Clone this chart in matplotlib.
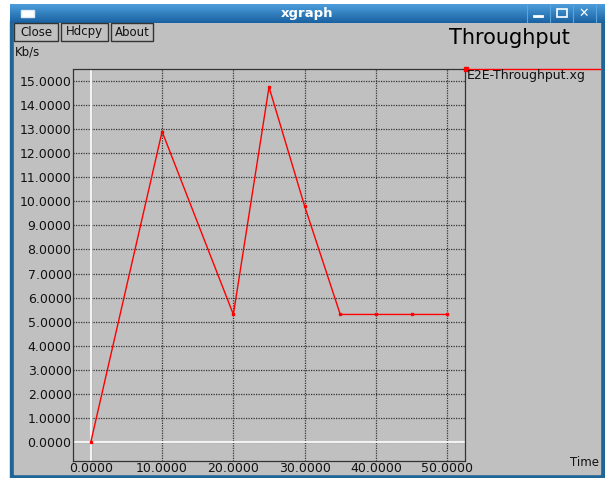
import matplotlib.pyplot as plt
from matplotlib.patches import Rectangle
from matplotlib.lines import Line2D
from matplotlib.colors import LinearSegmentedColormap
import numpy as np

time = [0, 10, 20, 25, 30, 35, 40, 45, 50]
throughput = [0.0, 12.9, 5.3, 14.75, 9.8, 5.3, 5.3, 5.3, 5.3]
xticks = [0, 10, 20, 30, 40, 50]
yticks = list(range(0, 16))

W, H = 605, 478
fig = plt.figure(figsize=(W / 100, H / 100), dpi=100)
fig.patch.set_facecolor('white')

def px(x, y):
    # pixel coords (top-left origin) -> figure fraction
    return x / W, 1 - y / H

# window body (negative zorder so the axes sit on top)
border = '#1f6598'
fig.patches.append(Rectangle(px(10, 478), 595 / W, 458 / H, transform=fig.transFigure, color=border, zorder=-2))
fig.patches.append(Rectangle(px(14, 474), 586 / W, 452 / H, transform=fig.transFigure, color='#c0c0c0', zorder=-1))

# title bar with gradient
tb = fig.add_axes([10 / W, 1 - 23 / H, 595 / W, 19 / H])
tb.imshow(np.linspace(0, 1, 50).reshape(-1, 1), aspect='auto',
          cmap=LinearSegmentedColormap.from_list('tb', ['#4c9ddb', '#1a62a3']), extent=[0, 1, 0, 1])
tb.set_axis_off()
fig.text(*px(307, 13), 'xgraph', color='white', fontsize=9.5, fontweight='bold', ha='center', va='center')
fig.patches.append(Rectangle(px(21, 17), 13 / W, 7 / H, transform=fig.transFigure, fc='white', ec='#dde9f5', lw=1, zorder=3))
for bx in [527, 550, 573, 596]:
    fig.add_artist(Line2D([bx / W, bx / W], [1 - 5 / H, 1 - 22 / H], color='#5aa5de', lw=0.8))
fig.add_artist(Line2D([534 / W, 542 / W], [1 - 16 / H, 1 - 16 / H], color='white', lw=2))
fig.patches.append(Rectangle(px(557, 17), 10 / W, 8 / H, transform=fig.transFigure, fc='none', ec='white', lw=1.2, zorder=3))
fig.text(*px(584, 13), '✕', color='white', fontsize=9, fontweight='bold', ha='center', va='center')

# buttons
for bx, bw, lab in [(14, 44, 'Close'), (61, 47, 'Hdcpy'), (111, 42, 'About')]:
    fig.patches.append(Rectangle(px(bx, 41), bw / W, 18 / H, transform=fig.transFigure, fc='#c0c0c0', ec='#333333', lw=1, zorder=3))
    fig.text(*px(bx + bw / 2, 32), lab, fontsize=8.5, ha='center', va='center', color='#111111', zorder=4)

fig.text(*px(449, 38), 'Throughput', fontsize=15, ha='left', va='center', color='black')
fig.text(*px(15, 52), 'Kb/s', fontsize=8.5, ha='left', va='center', color='#111111')
fig.text(*px(570, 462), 'Time', fontsize=8.5, ha='left', va='center', color='#111111')

# plot area
l, t, r, b = 73, 69, 465, 461
ax = fig.add_axes([l / W, 1 - b / H, (r - l) / W, (b - t) / H])
ax.set_facecolor('#c0c0c0')
ax.set_xlim(-2.5, 52.5)
ax.set_ylim(-0.79, 15.5)
ax.set_xticks(xticks)
ax.set_yticks(yticks)
ax.set_xticklabels(['%.4f' % v for v in xticks])
ax.set_yticklabels(['%.4f' % v for v in yticks])
ax.tick_params(length=0, labelsize=9, colors='#111111', pad=1)
ax.grid(True, color='#333333', linestyle=(0, (1, 1)), linewidth=0.9)
for s in ax.spines.values():
    s.set_linestyle((0, (1, 1)))
    s.set_linewidth(0.9)
    s.set_color('#333333')
ax.axhline(0, color='#f2f2f2', lw=1.5, zorder=2)
ax.axvline(0, color='#f2f2f2', lw=1.5, zorder=2)
ax.plot(time, throughput, color='red', lw=1, marker='s', ms=2, zorder=3, clip_on=False)

# legend entry
fig.add_artist(Line2D([466 / W, 600 / W], [1 - 69 / H, 1 - 69 / H], color='red', lw=1))
fig.add_artist(Line2D([466 / W], [1 - 69 / H], color='red', marker='s', ms=2.5))
fig.text(*px(467, 76), 'E2E-Throughput.xg', fontsize=9, ha='left', va='center', color='#111111')

fig.savefig('out.png', dpi=100, facecolor=fig.get_facecolor())
